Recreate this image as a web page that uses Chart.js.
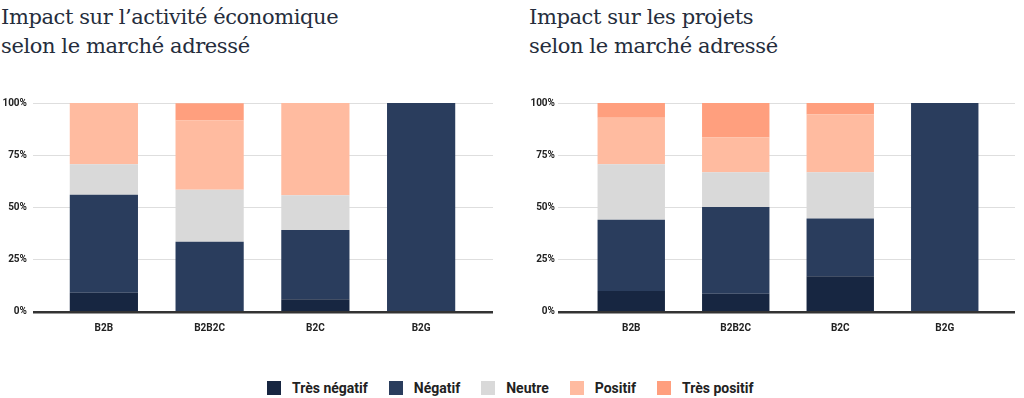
<!DOCTYPE html>
<html>
<head>
<meta charset="utf-8">
<script src="https://cdn.jsdelivr.net/npm/chart.js@4/dist/chart.umd.min.js"></script>
<style>
  body { margin: 0; background: #fff; width: 1024px; height: 398px; position: relative; overflow: hidden; }
  .title { position: absolute; top: 3px; font-family: "DejaVu Serif", serif; font-size: 21px; line-height: 29px; color: #252d3c; letter-spacing: -0.4px; }
  .wrap { position: absolute; top: 90px; width: 512px; height: 245px; }
  #legend { position: absolute; left: 267px; top: 380px; display: flex; align-items: center; font-family: Roboto, sans-serif; font-weight: bold; font-size: 14px; color: #222; }
  #legend span.box { display: inline-block; width: 14px; height: 14px; margin-right: 11px; }
  #legend span.lbl { margin-right: 21px; }
</style>
</head>
<body>
<div class="title" style="left:1px">Impact sur l’activité économique<br>selon le marché adressé</div>
<div class="title" style="left:529px">Impact sur les projets<br>selon le marché adressé</div>
<div class="wrap" style="left:0"><canvas id="ecoChart"></canvas></div>
<div class="wrap" style="left:512px"><canvas id="projChart"></canvas></div>
<div id="legend"></div>
<script>
// Categories and series
const markets = ['B2B', 'B2B2C', 'B2C', 'B2G'];
const seriesNames = ['Très négatif', 'Négatif', 'Neutre', 'Positif', 'Très positif'];
const seriesColors = ['#172641', '#2a3d5d', '#d9d9d9', '#ffbba0', '#ff9f7e'];
const yTicks = [0, 25, 50, 75, 100];

// Impact sur l'activité économique (%)
const ecoTresNegatif = [8.8, 0, 5.6, 0];
const ecoNegatif = [47.1, 33.3, 33.3, 100];
const ecoNeutre = [14.7, 25.0, 16.7, 0];
const ecoPositif = [29.4, 33.3, 44.4, 0];
const ecoTresPositif = [0, 8.3, 0, 0];

// Impact sur les projets (%)
const projTresNegatif = [9.6, 8.3, 16.7, 0];
const projNegatif = [34.3, 41.7, 27.8, 100];
const projNeutre = [26.6, 16.7, 22.2, 0];
const projPositif = [22.4, 16.7, 27.8, 0];
const projTresPositif = [7.1, 16.7, 5.6, 0];

const tickFont = { family: 'Roboto', weight: 'bold', size: 10 };

// light grid lines + dark baseline, a bit wider than the bar area
const gridPlugin = {
  id: 'wideGrid',
  beforeDatasetsDraw(chart, args, opts) {
    const { ctx, chartArea, scales } = chart;
    const x0 = chartArea.left - opts.extLeft;
    const x1 = chartArea.right + opts.extRight;
    ctx.save();
    yTicks.forEach(t => {
      const y = Math.round(scales.y.getPixelForValue(t));
      ctx.strokeStyle = t === 0 ? '#333' : '#dedede';
      ctx.lineWidth = t === 0 ? 2.5 : 1;
      ctx.beginPath();
      ctx.moveTo(x0, t === 0 ? y + 1.25 : y + 0.5);
      ctx.lineTo(x1, t === 0 ? y + 1.25 : y + 0.5);
      ctx.stroke();
    });
    ctx.restore();
  }
};

function makeChart(id, values, yWidth, padRight, extLeft, extRight) {
  new Chart(document.getElementById(id), {
    type: 'bar',
    data: {
      labels: markets,
      datasets: seriesNames.map((name, i) => ({
        label: name,
        data: values[i],
        backgroundColor: seriesColors[i],
        barPercentage: 1,
        categoryPercentage: 0.645
      }))
    },
    options: {
      responsive: true,
      maintainAspectRatio: false,
      animation: false,
      layout: { padding: { top: 13, right: padRight, bottom: 0, left: 0 } },
      plugins: {
        legend: { display: false },
        tooltip: { enabled: false },
        wideGrid: { extLeft: extLeft, extRight: extRight }
      },
      scales: {
        x: {
          stacked: true,
          grid: { display: false },
          border: { display: false },
          ticks: { color: '#222', font: tickFont, padding: 3 },
          afterFit(scale) { scale.height = 24; }
        },
        y: {
          stacked: true,
          min: 0,
          max: 100,
          grid: { display: false, drawTicks: false },
          border: { display: false },
          ticks: {
            stepSize: 25,
            color: '#222',
            font: tickFont,
            padding: 24,
            callback: v => v + '%'
          },
          afterFit(scale) {
            scale.width = yWidth;
            scale.paddingTop = 0;
            scale.paddingBottom = 0;
          }
        }
      }
    },
    plugins: [gridPlugin]
  });
}

makeChart('ecoChart', [ecoTresNegatif, ecoNegatif, ecoNeutre, ecoPositif, ecoTresPositif], 51, 38, 18, 19);
makeChart('projChart', [projTresNegatif, projNegatif, projNeutre, projPositif, projTresPositif], 67, 27, 21, 18);

// shared legend
const legend = document.getElementById('legend');
seriesNames.forEach((name, i) => {
  const box = document.createElement('span');
  box.className = 'box';
  box.style.background = seriesColors[i];
  const lbl = document.createElement('span');
  lbl.className = 'lbl';
  lbl.textContent = name;
  legend.appendChild(box);
  legend.appendChild(lbl);
});
</script>
</body>
</html>
